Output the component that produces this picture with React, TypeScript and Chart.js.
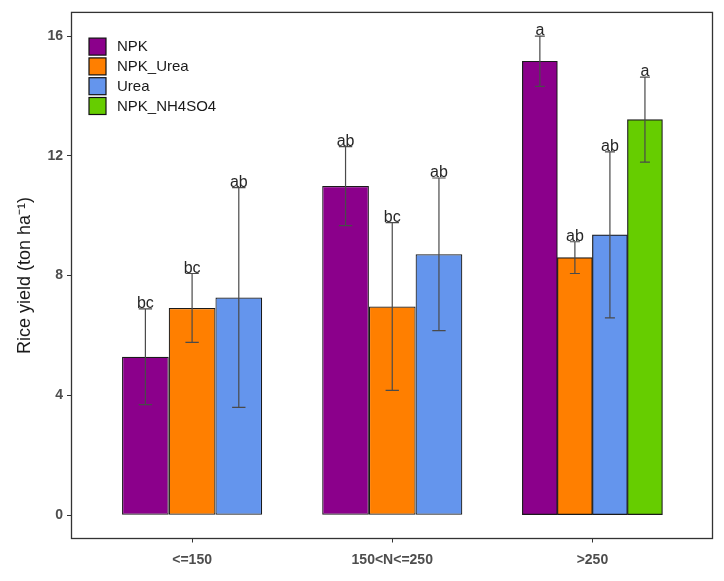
import React, { useEffect, useRef } from 'react';
import { Chart, registerables } from 'chart.js';

Chart.register(...registerables);

// ---- data ----
const categories = ['<=150', '150<N<=250', '>250'];
const seriesNames = ['NPK', 'NPK_Urea', 'Urea', 'NPK_NH4SO4'];
const seriesColors = ['#8B008B', '#FF7F00', '#6495ED', '#66CD00'];

const npk = [5.29, 10.99, 15.16];
const npkUrea = [6.92, 6.97, 8.6];
const urea = [7.27, 8.71, 9.36];
const npkNh4so4 = [null, null, 13.21];

const npkSe = [1.6, 1.32, 0.84];
const npkUreaSe = [1.15, 2.8, 0.53];
const ureaSe = [3.67, 2.55, 2.77];
const npkNh4so4Se = [null, null, 1.42];

const npkLetters = ['bc', 'ab', 'a'];
const npkUreaLetters = ['bc', 'bc', 'ab'];
const ureaLetters = ['ab', 'ab', 'ab'];
const npkNh4so4Letters = [null, null, 'a'];

const yTicks = [0, 4, 8, 12, 16];

const FONT = '"Liberation Sans", Arial, sans-serif';
const DODGE = 0.7;
const ERR_W = 0.2;

function buildDatasets() {
  const seriesValues = [npk, npkUrea, urea, npkNh4so4];
  const seriesSe = [npkSe, npkUreaSe, ureaSe, npkNh4so4Se];
  const seriesLetters = [npkLetters, npkUreaLetters, ureaLetters, npkNh4so4Letters];
  const counts = categories.map((_, c) => seriesValues.filter((v) => v[c] != null).length);
  const maxCount = Math.max(...counts);
  const ds: any[] = [];
  categories.forEach((_, c) => {
    const n = counts[c];
    let k = 0;
    seriesValues.forEach((vals, s) => {
      const v = vals[c];
      if (v == null) return;
      const x = c + 1 - DODGE / 2 + ((k + 0.5) * DODGE) / n;
      k++;
      ds.push({
        label: seriesNames[s],
        data: [{ x, y: v }],
        backgroundColor: seriesColors[s],
        borderColor: '#1a1a1a',
        borderWidth: 1.2,
        borderSkipped: false,
        grouped: false,
        categoryPercentage: 1,
        barPercentage: maxCount / n,
        se: seriesSe[s][c],
        letter: seriesLetters[s][c],
        capWidth: ERR_W / n,
      });
    });
  });
  return ds;
}

const errorBarPlugin = {
  id: 'errorBars',
  afterDatasetsDraw(chart: any) {
    const ctx = chart.ctx;
    const xs = chart.scales.x;
    const ys = chart.scales.y;
    chart.data.datasets.forEach((ds: any, i: number) => {
      const meta = chart.getDatasetMeta(i);
      const el = meta.data[0];
      const pt = ds.data[0];
      const top = ys.getPixelForValue(pt.y + ds.se);
      const bot = ys.getPixelForValue(pt.y - ds.se);
      const half = (xs.getPixelForValue(pt.x + ds.capWidth / 2) - xs.getPixelForValue(pt.x - ds.capWidth / 2)) / 2;
      const cx = el.x;
      ctx.save();
      ctx.strokeStyle = '#4a4a4a';
      ctx.lineWidth = 1.2;
      ctx.beginPath();
      ctx.moveTo(cx, top);
      ctx.lineTo(cx, bot);
      ctx.moveTo(cx - half, top);
      ctx.lineTo(cx + half, top);
      ctx.moveTo(cx - half, bot);
      ctx.lineTo(cx + half, bot);
      ctx.stroke();
      ctx.fillStyle = '#262626';
      ctx.font = '16px ' + FONT;
      ctx.textAlign = 'center';
      ctx.textBaseline = 'alphabetic';
      ctx.fillText(ds.letter, cx, top - 1);
      ctx.restore();
    });
  },
};

const panelPlugin = {
  id: 'panelAndLegend',
  afterDraw(chart: any) {
    const ctx = chart.ctx;
    const ca = chart.chartArea;
    ctx.save();
    ctx.strokeStyle = '#333333';
    ctx.lineWidth = 1.3;
    ctx.strokeRect(ca.left - 0.5, ca.top, ca.right - ca.left + 0.5, ca.bottom - ca.top);
    // legend inside panel
    const keyX = ca.left + 17;
    const keyY0 = ca.top + 25.7;
    const key = 17;
    const step = 19.8;
    ctx.font = '15px ' + FONT;
    ctx.textAlign = 'left';
    ctx.textBaseline = 'middle';
    seriesNames.forEach((name, i) => {
      const y = keyY0 + i * step;
      ctx.fillStyle = seriesColors[i];
      ctx.fillRect(keyX, y, key, key);
      ctx.strokeStyle = '#111111';
      ctx.lineWidth = 1.2;
      ctx.strokeRect(keyX, y, key, key);
      ctx.fillStyle = '#1a1a1a';
      ctx.fillText(name, keyX + 28, y + key / 2 + 0.5);
    });
    ctx.restore();
  },
};

export default function App() {
  const ref = useRef<HTMLCanvasElement | null>(null);
  useEffect(() => {
    if (!ref.current) return;
    const chart = new Chart(ref.current, {
      type: 'bar',
      data: { datasets: buildDatasets() },
      options: {
        responsive: false,
        animation: false,
        devicePixelRatio: 1,
        layout: { padding: { left: 0, top: 11, right: 11.5, bottom: 0 } },
        plugins: { legend: { display: false }, tooltip: { enabled: false } },
        scales: {
          x: {
            type: 'linear',
            offset: false,
            min: 0.4,
            max: 3.6,
            afterBuildTicks: (s: any) => {
              s.ticks = categories.map((_, i) => ({ value: i + 1 }));
            },
            afterFit: (s: any) => {
              s.height = 42.5;
            },
            ticks: {
              autoSkip: false,
              maxRotation: 0,
              padding: 9,
              color: '#4d4d4d',
              font: { family: FONT, size: 14, weight: 'bold' },
              callback: (v: any) => categories[Math.round(v) - 1],
            },
            grid: { offset: false, drawOnChartArea: false, drawTicks: true, tickLength: 4, color: '#333333', lineWidth: 1 },
            border: { display: false },
          },
          y: {
            type: 'linear',
            min: -0.78,
            max: 16.79,
            afterBuildTicks: (s: any) => {
              s.ticks = yTicks.map((v) => ({ value: v }));
            },
            afterFit: (s: any) => {
              s.width = 72;
            },
            ticks: {
              padding: 4,
              color: '#4d4d4d',
              font: { family: FONT, size: 14, weight: 'bold' },
            },
            grid: { drawOnChartArea: false, drawTicks: true, tickLength: 5, color: '#333333', lineWidth: 1 },
            border: { display: false },
            title: {
              display: true,
              text: 'Rice yield (ton ha\u207B\u00B9)',
              color: '#1a1a1a',
              font: { family: FONT, size: 18 },
              padding: { top: 14, bottom: 0 },
            },
          },
        },
      },
      plugins: [errorBarPlugin, panelPlugin],
    } as any);
    return () => chart.destroy();
  }, []);
  return (
    <div style={{ position: 'absolute', left: 0, top: 0, width: 724, height: 581, background: '#fff' }}>
      <canvas ref={ref} width={724} height={581} />
    </div>
  );
}
